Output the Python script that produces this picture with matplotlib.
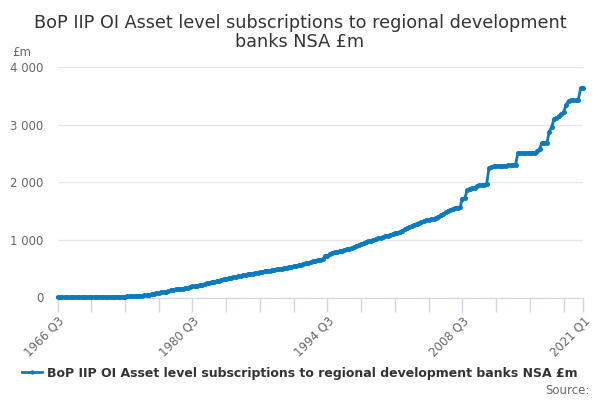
import matplotlib.pyplot as plt
from matplotlib.ticker import FuncFormatter

plt.rcParams['font.family'] = ['DejaVu Sans']

# Quarterly values, 1966 Q3 .. 2021 Q1 (£m)
values = [
    5, 5,                      # 1966 Q3-Q4
    6, 6, 6, 7,                # 1967
    7, 7, 8, 8,
    8, 9, 9, 9,
    10, 10, 10, 11,            # 1970
    11, 12, 12, 12,
    13, 13, 14, 14,
    15, 16, 17, 18,
    20, 22, 24, 27,
    30, 34, 38, 42,            # 1975
    48, 55, 62, 70,
    82, 88, 95, 100,
    106, 132, 136, 140,
    145, 151, 155, 160,
    172, 180, 191, 195,        # 1980
    205, 209, 225, 236,
    246, 258, 268, 276,
    285, 293, 303, 315,
    325, 332, 340, 348,
    357, 365, 374, 383,        # 1985
    391, 400, 408, 416,
    424, 433, 441, 448,
    454, 461, 467, 474,
    481, 487, 495, 503,
    512, 520, 528, 537,        # 1990
    545, 552, 560, 568,
    580, 592, 603, 614,
    625, 636, 646, 656,
    665, 713, 725, 760,
    777, 785, 795, 805,        # 1995
    815, 827, 837, 847,
    862, 878, 893, 910,
    930, 945, 962, 975,
    988, 1000, 1012, 1025,
    1037, 1049, 1060, 1072,    # 2000
    1085, 1100, 1115, 1125,
    1140, 1160, 1185, 1205,
    1225, 1245, 1265, 1280,
    1295, 1310, 1325, 1339,
    1348, 1358, 1368, 1385,    # 2005
    1405, 1430, 1455, 1478,
    1500, 1520, 1543, 1553,
    1560, 1570, 1716, 1730,
    1870, 1890, 1900, 1905,
    1930, 1948, 1955, 1960,    # 2010
    1965, 2250, 2265, 2275,
    2278, 2282, 2285, 2288,
    2290, 2292, 2295, 2298,
    2300, 2510, 2510, 2510,
    2510, 2510, 2510, 2510,    # 2015
    2510, 2540, 2585, 2680,
    2680, 2680, 2875, 2960,
    3096, 3120, 3150, 3180,
    3225, 3340, 3415, 3420,
    3420, 3420, 3425, 3630,    # 2020
    3630,                      # 2021 Q1
]

quarters = []
for k in range(len(values)):
    q = 2 + k  # 0-based quarter number from 1966 Q1
    quarters.append(f"{1966 + q // 4} Q{q % 4 + 1}")

series_name = "BoP IIP OI Asset level subscriptions to regional development banks NSA £m"
line_color = '#0b7bc1'
grey = '#666666'

fig = plt.figure(figsize=(6, 4), dpi=100)
ax = fig.add_axes([57.5 / 600, 1 - 297.5 / 400, (583 - 57.5) / 600, (297.5 - 67) / 400])

x = list(range(len(values)))
ax.plot(x, values, color=line_color, lw=2, marker='o', ms=2.6, mec=line_color,
        mfc=line_color, label=series_name, clip_on=False, zorder=3)

ax.set_xlim(0, len(values) - 1)
ax.set_ylim(0, 4000)
ax.set_yticks([0, 1000, 2000, 3000, 4000])
ax.yaxis.set_major_formatter(FuncFormatter(lambda v, p: f"{int(v):,}".replace(",", " ")))
ax.grid(axis='y', color='#e6e6e6', lw=1)
ax.set_axisbelow(True)

tick_pos = list(range(0, len(values), 14)) + [len(values) - 1]
label_pos = list(range(0, len(values) - 10, 56)) + [len(values) - 1]
ax.set_xticks(tick_pos)
ax.set_xticklabels([quarters[i] if i in label_pos else '' for i in tick_pos],
                   rotation=45, ha='right', rotation_mode='anchor')

for s in ['top', 'right', 'left']:
    ax.spines[s].set_visible(False)
ax.spines['bottom'].set_color('#ccd6eb')
ax.tick_params(axis='x', colors='#ccd6eb', length=10, width=1, labelcolor=grey,
               labelsize=8.5, pad=2)
ax.tick_params(axis='y', length=0, labelcolor=grey, labelsize=8.5, pad=10)

fig.text(0.5, 0.965, "BoP IIP OI Asset level subscriptions to regional development\nbanks NSA £m",
         ha='center', va='top', fontsize=12.7, color='#333333', linespacing=1.05)
fig.text(12 / 600, 1 - 52 / 400, "£m", fontsize=8.5, color=grey, va='center')

leg = fig.legend(loc='center', bbox_to_anchor=(0.5, 1 - 373 / 400), frameon=False,
                 prop={'size': 9, 'weight': 'bold'}, handlelength=1.6,
                 handletextpad=0.4, markerscale=0.8)
for t in leg.get_texts():
    t.set_color('#333333')
fig.text(590 / 600, 1 - 391 / 400, "Source:", ha='right', va='center', fontsize=8.5, color=grey)

fig.savefig('out.png', dpi=100)
